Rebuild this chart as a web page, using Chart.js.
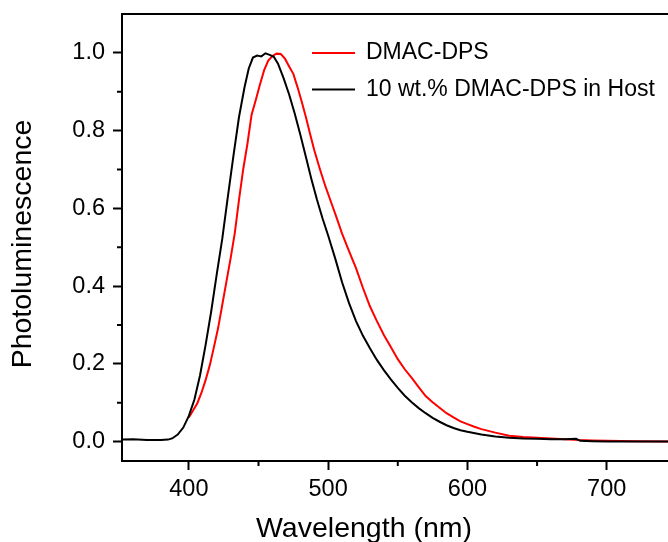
<!DOCTYPE html>
<html>
<head>
<meta charset="utf-8">
<script src="https://cdn.jsdelivr.net/npm/chart.js@4"></script>
<style>
  html, body { margin: 0; padding: 0; background: #fff; overflow: hidden; }
  canvas { display: block; }
</style>
</head>
<body>
<canvas id="plChart" width="668" height="542"></canvas>
<script>
// wavelength (nm) / normalised PL
const hostWl = [352, 360, 370, 380, 385, 388, 392, 396, 400, 404, 408, 412, 416, 420, 424, 428, 432, 436, 440, 443, 446, 449, 452, 455, 458, 461, 464, 468, 472, 476, 480, 484, 488, 492, 496, 500, 505, 510, 515, 520, 525, 530, 535, 540, 545, 550, 555, 560, 565, 570, 575, 580, 585, 590, 595, 600, 610, 620, 630, 640, 650, 660, 670, 678, 681, 690, 700, 720, 745];
const hostPL = [0.005, 0.006, 0.004, 0.004, 0.005, 0.008, 0.018, 0.036, 0.066, 0.108, 0.170, 0.248, 0.334, 0.430, 0.522, 0.630, 0.735, 0.835, 0.912, 0.960, 0.988, 0.993, 0.991, 0.999, 0.995, 0.990, 0.972, 0.935, 0.893, 0.844, 0.790, 0.733, 0.675, 0.622, 0.574, 0.530, 0.472, 0.410, 0.356, 0.310, 0.272, 0.240, 0.210, 0.184, 0.160, 0.138, 0.118, 0.101, 0.086, 0.073, 0.061, 0.051, 0.042, 0.035, 0.029, 0.025, 0.018, 0.013, 0.010, 0.008, 0.007, 0.006, 0.006, 0.007, 0.002, 0.001, 0.000, 0.000, 0.000];

const neatWl = [400, 403, 406, 409, 412, 415, 418, 421, 424, 427, 430, 433, 436, 439, 442, 445, 448, 451, 454, 457, 460, 463, 466, 469, 472, 475, 478, 481, 484, 487, 490, 494, 498, 502, 506, 510, 515, 520, 525, 530, 535, 540, 545, 550, 555, 560, 565, 570, 575, 580, 585, 590, 595, 600, 605, 610, 620, 630, 640, 650, 660, 670, 680, 690, 700, 720, 745];
const neatPL = [0.062, 0.080, 0.098, 0.125, 0.158, 0.196, 0.243, 0.292, 0.352, 0.412, 0.472, 0.537, 0.622, 0.700, 0.765, 0.840, 0.878, 0.918, 0.955, 0.980, 0.992, 0.998, 0.997, 0.985, 0.965, 0.946, 0.912, 0.875, 0.835, 0.792, 0.750, 0.702, 0.657, 0.617, 0.577, 0.535, 0.490, 0.446, 0.395, 0.348, 0.310, 0.274, 0.243, 0.212, 0.186, 0.164, 0.140, 0.117, 0.101, 0.087, 0.073, 0.062, 0.052, 0.045, 0.038, 0.032, 0.023, 0.015, 0.012, 0.010, 0.008, 0.006, 0.004, 0.003, 0.002, 0.001, 0.000];

const seriesNames = ["DMAC-DPS", "10 wt.% DMAC-DPS in Host"];
const seriesColors = ["#ff0000", "#000000"];
const xTicks = [400, 500, 600, 700];
const yTicks = [0.0, 0.2, 0.4, 0.6, 0.8, 1.0];
const xMinorTicks = [350, 450, 550, 650, 750];
const yMinorTicks = [0.1, 0.3, 0.5, 0.7, 0.9];
const xTitle = "Wavelength (nm)";
const yTitle = "Photoluminescence";

const FONT = "'Liberation Sans', Arial, sans-serif";

const toPoints = (xs, ys) => xs.map((x, i) => ({ x: x, y: ys[i] }));

// top frame, minor ticks, axis titles and the legend
const decorPlugin = {
  id: "decor",
  afterDraw(chart) {
    const ctx = chart.ctx;
    const a = chart.chartArea;
    const xs = chart.scales.x;
    const ys = chart.scales.y;
    ctx.save();
    ctx.strokeStyle = "#000";
    ctx.lineWidth = 2;
    ctx.beginPath();
    ctx.moveTo(a.left - 1, a.top);
    ctx.lineTo(a.right, a.top);
    xMinorTicks.forEach(v => {
      const px = xs.getPixelForValue(v);
      if (px < a.left - 1 || px > a.right) return;
      ctx.moveTo(px, a.bottom);
      ctx.lineTo(px, a.bottom + 5);
    });
    yMinorTicks.forEach(v => {
      const py = ys.getPixelForValue(v);
      ctx.moveTo(a.left, py);
      ctx.lineTo(a.left - 5, py);
    });
    ctx.stroke();

    ctx.fillStyle = "#000";
    ctx.font = "28.5px " + FONT;
    ctx.textAlign = "center";
    ctx.textBaseline = "alphabetic";
    ctx.fillText(xTitle, 364, 537);

    ctx.save();
    ctx.translate(31, 244);
    ctx.rotate(-Math.PI / 2);
    ctx.fillText(yTitle, 0, 0);
    ctx.restore();

    // legend
    ctx.font = "23px " + FONT;
    ctx.textAlign = "left";
    ctx.textBaseline = "middle";
    seriesNames.forEach((name, i) => {
      const ly = 53 + i * 36.5;
      ctx.strokeStyle = seriesColors[i];
      ctx.beginPath();
      ctx.moveTo(312, ly);
      ctx.lineTo(355, ly);
      ctx.stroke();
      ctx.fillText(name, 366, ly);
    });
    ctx.restore();
  }
};

const axisStyle = {
  border: { display: true, color: "#000", width: 2 },
  grid: { drawOnChartArea: false, drawTicks: true, tickLength: 9, tickWidth: 2, tickColor: "#000" }
};

const ctx = document.getElementById("plChart");
const plChart = new Chart(ctx, {
  type: "line",
  data: {
    datasets: [
      {
        label: seriesNames[0],
        data: toPoints(neatWl, neatPL),
        borderColor: seriesColors[0],
        borderWidth: 2,
        pointRadius: 0,
        tension: 0,
        order: 1
      },
      {
        label: seriesNames[1],
        data: toPoints(hostWl, hostPL),
        borderColor: seriesColors[1],
        borderWidth: 2,
        pointRadius: 0,
        tension: 0,
        order: 0
      }
    ]
  },
  options: {
    responsive: false,
    animation: false,
    devicePixelRatio: 1,
    layout: { padding: { top: 14, right: 0, left: 0, bottom: 0 } },
    plugins: {
      legend: { display: false },
      tooltip: { enabled: false }
    },
    scales: {
      x: {
        type: "linear",
        min: 352,
        max: 744,
        ...axisStyle,
        afterBuildTicks: s => { s.ticks = xTicks.map(v => ({ value: v })); },
        afterFit: s => { s.height = 81; s.paddingLeft = 0; s.paddingRight = 0; },
        ticks: {
          color: "#000",
          padding: 5,
          maxRotation: 0,
          autoSkip: false,
          font: { family: FONT, size: 23.5 }
        }
      },
      y: {
        type: "linear",
        min: -0.05,
        max: 1.1,
        ...axisStyle,
        afterBuildTicks: s => { s.ticks = yTicks.map(v => ({ value: v })); },
        afterFit: s => { s.width = 122; s.paddingTop = 0; s.paddingBottom = 0; },
        ticks: {
          color: "#000",
          padding: 8,
          autoSkip: false,
          font: { family: FONT, size: 23.5 },
          callback: v => v.toFixed(1)
        }
      }
    }
  },
  plugins: [decorPlugin]
});
</script>
</body>
</html>
